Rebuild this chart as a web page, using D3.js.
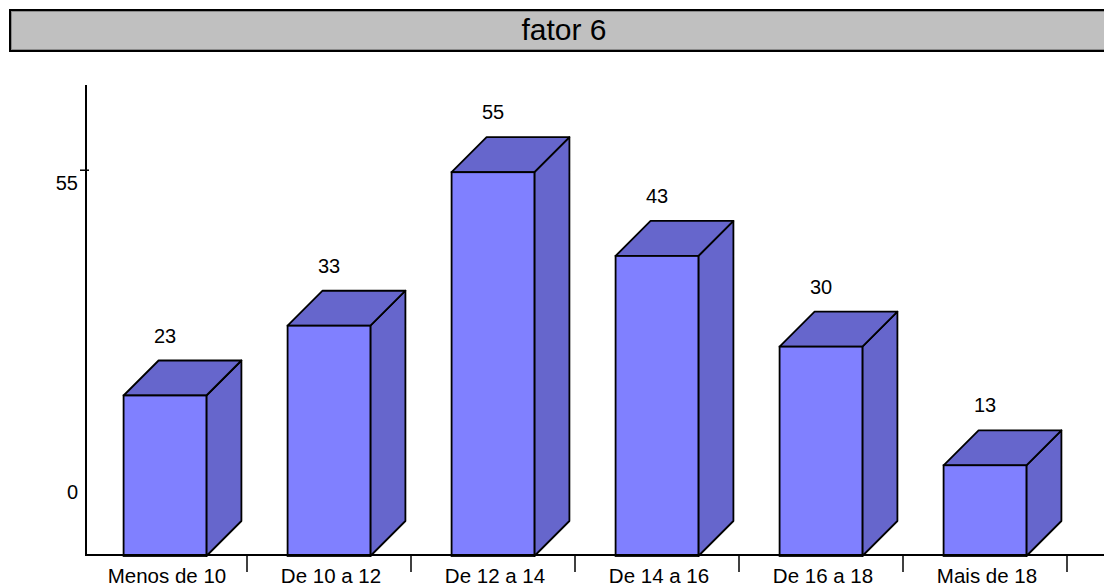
<!DOCTYPE html>
<html>
<head>
<meta charset="utf-8">
<script src="https://cdn.jsdelivr.net/npm/d3@7/dist/d3.min.js"></script>
<style>
  html, body { margin: 0; padding: 0; background: #fff; }
  svg { display: block; font-family: "Liberation Sans", Arial, Helvetica, sans-serif; }
</style>
</head>
<body>
<svg id="chart" width="1104" height="586"></svg>
<script>
// Chart data
const title = "fator 6";
const categories = ["Menos de 10", "De 10 a 12", "De 12 a 14", "De 14 a 16", "De 16 a 18", "Mais de 18"];
const values = [23, 33, 55, 43, 30, 13];
const yTickValues = [0, 55];

const svg = d3.select("#chart");
const W = 1104, H = 586;

// Plot geometry
const axisX = 86;        // y-axis position
const baseY = 556;       // value 0
const topY = 85;         // top of the y-axis
const depth = 35;        // 3D extrusion offset

const x = d3.scaleBand().domain(categories).range([83, 1067]).paddingInner(0).paddingOuter(0);
const y = d3.scaleLinear().domain([0, 67.5]).range([baseY, topY]);

const frontColor = "#8080ff";
const shadeColor = "#6666cc";

// Title bar
const tb = svg.append("g");
tb.append("rect")
  .attr("x", 10).attr("y", 10).attr("width", 1108).attr("height", 41)
  .attr("fill", "#c0c0c0").attr("stroke", "#000").attr("stroke-width", 2);
tb.append("rect")
  .attr("x", 11.5).attr("y", 11.5).attr("width", 1105).attr("height", 38)
  .attr("fill", "none").attr("stroke", "#8a8a8a").attr("stroke-width", 1);
tb.append("text")
  .attr("x", 564).attr("y", 40)
  .attr("text-anchor", "middle")
  .attr("font-size", 30)
  .attr("fill", "#000")
  .text(title);

// Bars (front face, top face, side face)
const barW = x.bandwidth() * 0.505;
const bars = svg.append("g").selectAll("g.bar")
  .data(categories.map((c, i) => ({ c, v: values[i] })))
  .join("g").attr("class", "bar");

bars.each(function(d) {
  const g = d3.select(this);
  const x0 = x(d.c) + (x.bandwidth() - barW) / 2;
  const x1 = x0 + barW;
  const yt = y(d.v), yb = y(0);
  const pts = a => a.map(p => p.join(",")).join(" ");
  // side
  g.append("polygon")
    .attr("points", pts([[x1, yt], [x1 + depth, yt - depth], [x1 + depth, yb - depth], [x1, yb]]))
    .attr("fill", shadeColor).attr("stroke", "#000").attr("stroke-width", 1.8).attr("stroke-linejoin", "round");
  // top
  g.append("polygon")
    .attr("points", pts([[x0, yt], [x0 + depth, yt - depth], [x1 + depth, yt - depth], [x1, yt]]))
    .attr("fill", shadeColor).attr("stroke", "#000").attr("stroke-width", 1.8).attr("stroke-linejoin", "round");
  // front
  g.append("rect")
    .attr("x", x0).attr("y", yt).attr("width", barW).attr("height", yb - yt)
    .attr("fill", frontColor).attr("stroke", "#000").attr("stroke-width", 1.8);
  // value label
  g.append("text")
    .attr("x", (x0 + x1) / 2).attr("y", yt - depth - 18)
    .attr("text-anchor", "middle").attr("font-size", 20).attr("fill", "#000")
    .text(d.v);
});

// Y axis
svg.append("line")
  .attr("x1", axisX).attr("x2", axisX).attr("y1", topY).attr("y2", baseY)
  .attr("stroke", "#000").attr("stroke-width", 2);
yTickValues.forEach(v => {
  if (v > 0) {
    svg.append("line")
      .attr("x1", axisX - 6).attr("x2", axisX + 3)
      .attr("y1", y(v) - 2).attr("y2", y(v) - 2)
      .attr("stroke", "#000").attr("stroke-width", 1.5);
  }
  svg.append("text")
    .attr("x", axisX - 8)
    .attr("y", Math.min(y(v) + 18, baseY - 57))
    .attr("text-anchor", "end").attr("font-size", 20).attr("fill", "#000")
    .text(v);
});

// X axis
svg.append("line")
  .attr("x1", axisX - 1).attr("x2", W).attr("y1", baseY - 1).attr("y2", baseY - 1)
  .attr("stroke", "#000").attr("stroke-width", 2);
categories.forEach(c => {
  const bx = x(c) + x.bandwidth();
  svg.append("line")
    .attr("x1", bx).attr("x2", bx).attr("y1", baseY - 1).attr("y2", baseY + 16)
    .attr("stroke", "#000").attr("stroke-width", 1.5);
  svg.append("text")
    .attr("x", x(c) + x.bandwidth() / 2 + 2).attr("y", baseY + 27)
    .attr("text-anchor", "middle").attr("font-size", 20.5).attr("fill", "#000")
    .text(c);
});
</script>
</body>
</html>
